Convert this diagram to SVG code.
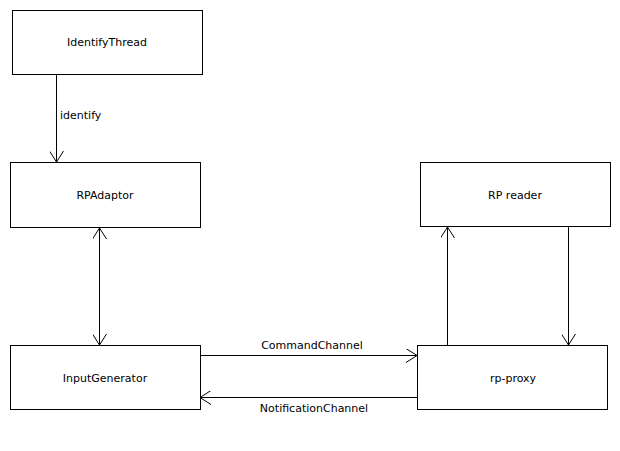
<svg xmlns="http://www.w3.org/2000/svg" width="620" height="451" viewBox="0 0 620 451">
<style>
.box{fill:#fff;stroke:#000;stroke-width:1}
.lbl{font-family:"DejaVu Sans",sans-serif;font-size:11px;fill:#000}
.c{text-anchor:middle}
.ln{stroke:#000;stroke-width:1;fill:none}
</style>
<defs>
<marker id="open" viewBox="0 0 12 14" refX="11" refY="7" markerWidth="12" markerHeight="14" markerUnits="userSpaceOnUse" orient="auto-start-reverse">
<path d="M0,0 L11,7 L0,14" fill="none" stroke="#000" stroke-width="1"/>
</marker>
</defs>
<rect width="620" height="451" fill="#fff"/>
<g id="connectors">
<line class="ln" x1="56.5" y1="74" x2="56.5" y2="162" marker-end="url(#open)"/>
<line class="ln" x1="99.5" y1="228" x2="99.5" y2="345" marker-start="url(#open)" marker-end="url(#open)"/>
<line class="ln" x1="200" y1="355.5" x2="417" y2="355.5" marker-end="url(#open)"/>
<line class="ln" x1="417" y1="397.5" x2="200" y2="397.5" marker-end="url(#open)"/>
<line class="ln" x1="447.5" y1="345" x2="447.5" y2="227" marker-end="url(#open)"/>
<line class="ln" x1="568.5" y1="227" x2="568.5" y2="345" marker-end="url(#open)"/>
<text class="lbl" x="60" y="119">identify</text>
<text class="lbl c" x="312" y="349">CommandChannel</text>
<text class="lbl c" x="314" y="412">NotificationChannel</text>
</g>
<g id="IdentifyThread">
<rect class="box" x="12.5" y="10.5" width="190" height="64"/>
<text class="lbl c" x="107" y="46">IdentifyThread</text>
</g>
<g id="RPAdaptor">
<rect class="box" x="10.5" y="162.5" width="190" height="65"/>
<text class="lbl c" x="105" y="199">RPAdaptor</text>
</g>
<g id="InputGenerator">
<rect class="box" x="10.5" y="345.5" width="190" height="64"/>
<text class="lbl c" x="105" y="382">InputGenerator</text>
</g>
<g id="RPreader">
<rect class="box" x="420.5" y="162.5" width="190" height="64"/>
<text class="lbl c" x="515" y="199">RP reader</text>
</g>
<g id="rpproxy">
<rect class="box" x="417.5" y="345.5" width="190" height="64"/>
<text class="lbl c" x="513" y="382">rp-proxy</text>
</g>
</svg>
